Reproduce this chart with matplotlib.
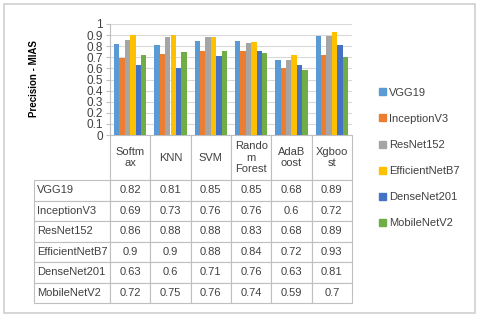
import numpy as np
import matplotlib.pyplot as plt
from matplotlib.patches import Rectangle, Patch

plt.rcParams['font.family'] = ['Liberation Sans', 'DejaVu Sans']

classifiers = ["Softm\nax", "KNN", "SVM", "Rando\nm\nForest", "AdaB\noost", "Xgboo\nst"]
models = ["VGG19", "InceptionV3", "ResNet152", "EfficientNetB7", "DenseNet201", "MobileNetV2"]
vgg19 = [0.82, 0.81, 0.85, 0.85, 0.68, 0.89]
inception_v3 = [0.69, 0.73, 0.76, 0.76, 0.6, 0.72]
resnet152 = [0.86, 0.88, 0.88, 0.83, 0.68, 0.89]
efficientnet_b7 = [0.9, 0.9, 0.88, 0.84, 0.72, 0.93]
densenet201 = [0.63, 0.6, 0.71, 0.76, 0.63, 0.81]
mobilenet_v2 = [0.72, 0.75, 0.76, 0.74, 0.59, 0.7]
colors = ["#5B9BD5", "#ED7D31", "#A5A5A5", "#FFC000", "#4472C4", "#70AD47"]

series = [vgg19, inception_v3, resnet152, efficientnet_b7, densenet201, mobilenet_v2]

W, H = 480, 318
fig = plt.figure(figsize=(W / 100, H / 100), dpi=100)

# outer frame
fig.patches.append(Rectangle((4 / W, 5 / H), 471 / W, 309 / H, transform=fig.transFigure,
                             fill=False, edgecolor="#D0D0D0", lw=1.2))

# plot area in pixels
left, right, top, bottom = 110, 352, 24, 135
ax = fig.add_axes([left / W, 1 - bottom / H, (right - left) / W, (bottom - top) / H])

x = np.arange(len(classifiers))
n = len(series)
group = 0.8
bw = group / n
for i, (vals, c) in enumerate(zip(series, colors)):
    ax.bar(x - group / 2 + bw * (i + 0.5), vals, bw, color=c, zorder=3)

ax.set_xlim(-0.5, len(classifiers) - 0.5)
ax.set_ylim(0, 1)
ax.set_yticks(np.arange(0, 1.01, 0.1))
ax.set_yticklabels(["0", "0.1", "0.2", "0.3", "0.4", "0.5", "0.6", "0.7", "0.8", "0.9", "1"])
ax.yaxis.grid(True, color="#D9D9D9", lw=0.8, zorder=0)
ax.set_xticks([])
for s in ["top", "right", "bottom"]:
    ax.spines[s].set_visible(False)
ax.spines["left"].set_color("#BFBFBF")
ax.tick_params(axis="y", labelsize=8.5, color="#BFBFBF", length=3, pad=2, labelcolor="#404040")
ax.set_ylabel("Precision - MIAS", fontsize=7, fontweight="bold", labelpad=0)
ax.yaxis.set_label_coords((39 - left) / (right - left), 1 - (79 - top) / (bottom - top))

# data table under the plot (bbox covers the value columns, row labels hang to the left)
cell_text = [[f"{v:g}" for v in vals] for vals in series]
tab_bottom = 303
bbox = [0, -(tab_bottom - bottom) / (bottom - top), 1, (tab_bottom - bottom) / (bottom - top)]
tbl = ax.table(cellText=cell_text, rowLabels=models, colLabels=classifiers,
               cellLoc="center", rowLoc="left", bbox=bbox)
tbl.auto_set_font_size(False)
tbl.set_fontsize(8)
for (r, c), cell in tbl.get_celld().items():
    cell.set_edgecolor("#BFBFBF")
    cell.set_linewidth(0.8)
    cell.get_text().set_color("#404040")
    if r == 0:
        cell.set_height(cell.get_height() * 2.2)
    if c == -1:
        cell.set_width(cell.get_width() * 1.84)
        cell.PAD = 0.04

handles = [Patch(color=c) for c in colors]
fig.legend(handles, models, loc="center left", bbox_to_anchor=(369 / W, 1 - 158 / H),
           frameon=False, fontsize=8, handlelength=0.6, handleheight=0.6,
           handletextpad=0.3, labelspacing=1.45, labelcolor="#404040")

fig.savefig("out.png", dpi=100)
